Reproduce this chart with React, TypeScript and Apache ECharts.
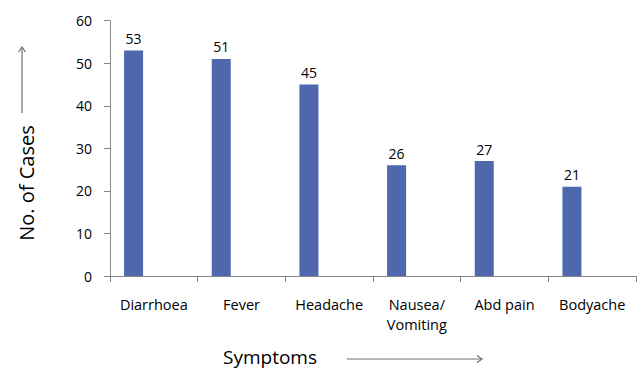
import React, { useEffect, useRef } from "react";
import * as echarts from "echarts";

const symptoms = ["Diarrhoea", "Fever", "Headache", "Nausea/\nVomiting", "Abd pain", "Bodyache"];
const cases = [53, 51, 45, 26, 27, 21];
const yTicks = { min: 0, max: 60, interval: 10 };

const FONT = "'Open Sans', 'DejaVu Sans', sans-serif";
const AXIS_GREY = "#878787";
const BAR_BLUE = "#4F67AD";

export default function App() {
  const ref = useRef<HTMLDivElement>(null);

  useEffect(() => {
    if (!ref.current) return;
    const chart = echarts.init(ref.current, null, { renderer: "svg" });

    chart.setOption({
      animation: false,
      backgroundColor: "#ffffff",
      textStyle: { fontFamily: FONT },
      grid: { left: 110, right: 4, top: 20.7, bottom: 93, containLabel: false },
      xAxis: {
        type: "category",
        data: symptoms,
        boundaryGap: true,
        axisLine: { show: true, lineStyle: { color: AXIS_GREY, width: 1 } },
        axisTick: { show: true, length: 6, alignWithLabel: false, lineStyle: { color: AXIS_GREY } },
        axisLabel: {
          color: "#000",
          fontSize: 14.5,
          fontFamily: FONT,
          margin: 18,
          lineHeight: 20,
          interval: 0,
        },
        splitLine: { show: false },
      },
      yAxis: {
        type: "value",
        min: yTicks.min,
        max: yTicks.max,
        interval: yTicks.interval,
        axisLine: { show: true, lineStyle: { color: AXIS_GREY, width: 1 } },
        axisTick: { show: true, length: 6, lineStyle: { color: AXIS_GREY } },
        axisLabel: { color: "#000", fontSize: 14, fontFamily: FONT, margin: 18 },
        splitLine: { show: false },
      },
      series: [
        {
          type: "bar",
          data: cases,
          barWidth: 19,
          barGap: "113%",
          itemStyle: { color: BAR_BLUE },
          label: {
            show: true,
            position: "top",
            distance: 5,
            color: "#000",
            fontSize: 14,
            fontFamily: FONT,
          },
        },
        {
          type: "bar",
          data: symptoms.map(() => null),
          barWidth: 19,
          itemStyle: { color: BAR_BLUE },
        },
      ],
      graphic: [
        {
          type: "text",
          x: 223,
          y: 357,
          style: {
            text: "Symptoms",
            fontSize: 19,
            lineHeight: 18,
            fontFamily: FONT,
            fill: "#000",
            verticalAlign: "middle",
          },
        },
        {
          type: "line",
          shape: { x1: 347, y1: 359, x2: 482, y2: 359 },
          style: { stroke: "#6f6f6f", lineWidth: 1.2 },
        },
        {
          type: "polyline",
          shape: { points: [[477, 355.5], [482, 359], [477, 362.5]] },
          style: { stroke: "#6f6f6f", lineWidth: 1.2, fill: "none" },
        },
        {
          type: "text",
          x: 26,
          y: 183,
          rotation: Math.PI / 2,
          style: {
            text: "No. of Cases",
            fontSize: 20,
            fontFamily: FONT,
            fill: "#000",
            align: "center",
            verticalAlign: "middle",
          },
        },
        {
          type: "line",
          shape: { x1: 22, y1: 113, x2: 22, y2: 47 },
          style: { stroke: "#6f6f6f", lineWidth: 1.2 },
        },
        {
          type: "polyline",
          shape: { points: [[18.5, 52], [22, 47], [25.5, 52]] },
          style: { stroke: "#6f6f6f", lineWidth: 1.2, fill: "none" },
        },
      ],
    });

    return () => chart.dispose();
  }, []);

  return (
    <div
      ref={ref}
      style={{ position: "fixed", left: 0, top: 0, width: 640, height: 369 }}
    />
  );
}
